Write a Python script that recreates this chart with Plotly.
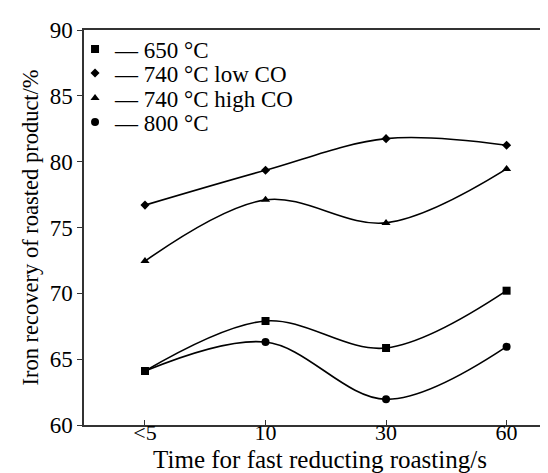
import plotly.graph_objects as go

categories = ["<5", "10", "30", "60"]
series_names = ["650 °C", "740 °C low CO", "740 °C high CO", "800 °C"]
s650 = [64.1, 67.9, 65.85, 70.2]
s740_low = [76.7, 79.35, 81.75, 81.25]
s740_high = [72.45, 77.1, 75.35, 79.45]
s800 = [64.1, 66.3, 61.95, 65.95]
symbols = ["square", "diamond", "triangle-up", "circle"]
sizes = [8, 7, 8, 8]
y_ticks = [60, 65, 70, 75, 80, 85, 90]

FONT = "Liberation Serif"
fig = go.Figure()
xpos = list(range(len(categories)))
for vals, sym, sz in zip([s650, s740_low, s740_high, s800], symbols, sizes):
    fig.add_trace(go.Scatter(
        x=xpos, y=vals, mode="lines+markers",
        line=dict(color="black", width=1.6, shape="spline", smoothing=1.0),
        marker=dict(symbol=sym, size=sz, color="black"),
        showlegend=False, hoverinfo="skip"))

legend_ids = ["legend", "legend2", "legend3", "legend4"]
legend_rows = [0.9519, 0.8911, 0.8278, 0.7671]
for name, sym, sz, lid in zip(series_names, symbols, sizes, legend_ids):
    fig.add_trace(go.Scatter(
        x=[None], y=[None], mode="markers",
        marker=dict(symbol=sym, size=sz, color="black"),
        name="— " + name, showlegend=True, legend=lid))

legend_layout = {}
for lid, ly in zip(legend_ids, legend_rows):
    legend_layout[lid] = dict(x=-0.019, y=ly, xanchor="left", yanchor="middle",
                              bgcolor="rgba(0,0,0,0)",
                              font=dict(family=FONT, size=23, color="black"))

fig.update_layout(
    width=548, height=473,
    margin=dict(l=76, r=0, t=22, b=56),
    paper_bgcolor="white", plot_bgcolor="white",
    font=dict(family=FONT, size=22, color="black"),
    showlegend=True,
    xaxis=dict(range=[-0.506, 3.41], tickmode="array", tickvals=xpos,
               ticktext=categories, showline=True, linecolor="#333",
               linewidth=1.5, mirror=True, ticks="inside", ticklen=5,
               tickcolor="#333", showgrid=False, zeroline=False,
               ticklabelstandoff=-13,
               title=dict(text="Time for fast reducting roasting/s",
                          font=dict(size=25), standoff=6),
               tickfont=dict(size=22)),
    yaxis=dict(range=[60, 90], tickvals=y_ticks, showline=True,
               linecolor="#333", linewidth=1.5, ticks="outside", ticklen=5,
               tickcolor="#333", showgrid=False, zeroline=False,
               tickfont=dict(size=23)),
    annotations=[dict(text="Iron recovery of roasted product/%", textangle=-90,
                      xref="paper", yref="paper", x=-0.1144, y=0.5,
                      xanchor="center", yanchor="middle", showarrow=False,
                      font=dict(family=FONT, size=22.5, color="black"))],
    **legend_layout,
)
fig.write_html("out.html")
